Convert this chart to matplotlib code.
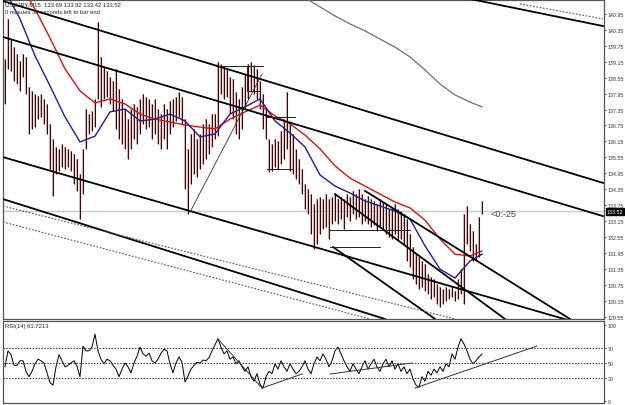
import numpy as np
import matplotlib
matplotlib.use("Agg")
import matplotlib.pyplot as plt

# USDJPY M15 bars (high / low), one per bar
highs = [139.25, 140.76, 140.00, 139.70, 139.44, 139.18, 139.44, 139.33, 138.20, 138.05,
         137.94, 137.86, 137.94, 137.75, 137.56, 136.81, 136.24, 135.94, 135.87, 136.05,
         135.94, 135.87, 135.79, 135.68, 135.49, 134.92, 135.87, 137.37, 137.18, 137.30,
         137.75, 140.64, 139.33, 138.95, 138.80, 138.57, 138.42, 138.88, 138.12, 137.75,
         137.37, 136.99, 137.37, 137.56, 137.45, 137.75, 137.94, 137.82, 137.75, 137.56,
         137.75, 137.37, 137.18, 137.56, 137.37, 137.67, 137.75, 137.82, 138.01, 137.82,
         136.99, 135.87, 136.43, 136.62, 136.24, 136.43, 136.81, 136.99, 136.81, 137.18,
         137.18, 139.14, 139.06, 138.95, 138.88, 138.57, 138.50, 138.01, 137.75, 138.20,
         138.69, 139.06, 139.14, 139.03, 138.88, 138.42, 137.94, 137.37, 136.24, 136.05,
         136.24, 136.17, 136.54, 136.99, 138.01, 136.81, 136.43, 135.87, 135.49, 135.11,
         134.55, 134.36, 134.17, 133.80, 133.98, 134.06, 133.98, 134.17, 133.98, 134.06,
         134.17, 133.98, 134.06, 133.98, 134.17, 134.06, 134.29, 134.17, 134.36, 134.17,
         133.98, 134.10, 133.98, 133.91, 133.80, 133.98, 133.87, 133.80, 133.61, 133.68,
         133.80, 133.61, 133.53, 133.42, 133.23, 132.67, 132.18, 131.91, 131.80, 131.65,
         131.54, 131.16, 131.05, 130.97, 130.79, 130.67, 130.60, 130.67, 130.60, 130.67,
         130.52, 130.97, 131.35, 133.42, 133.72, 133.04, 132.78, 132.29, 133.31, 133.92]
lows = [137.56, 138.88, 138.80, 138.42, 138.31, 138.05, 138.57, 137.94, 136.43, 136.62,
        136.69, 136.99, 137.07, 136.81, 136.43, 135.11, 134.10, 134.92, 135.04, 135.19,
        135.11, 135.19, 135.04, 134.55, 134.29, 133.23, 134.17, 135.87, 136.43, 136.54,
        136.69, 137.75, 137.45, 137.75, 137.82, 137.56, 137.30, 136.62, 136.24, 136.05,
        135.87, 135.49, 135.87, 136.24, 136.05, 136.43, 136.81, 136.62, 136.69, 136.24,
        136.43, 136.05, 135.87, 136.24, 135.87, 136.43, 136.69, 136.92, 137.07, 136.81,
        134.36, 133.42, 134.55, 134.92, 134.81, 135.11, 135.30, 135.49, 135.68, 135.94,
        136.24, 136.35, 137.94, 137.75, 137.82, 137.18, 136.99, 136.43, 136.24, 136.62,
        137.37, 137.75, 138.05, 137.94, 137.75, 137.37, 136.62, 136.24, 135.00, 135.04,
        135.19, 135.11, 135.30, 135.49, 135.87, 135.04, 134.92, 134.74, 134.55, 134.17,
        133.61, 133.42, 132.67, 132.10, 132.29, 132.67, 132.85, 132.93, 132.48, 133.04,
        133.16, 133.04, 133.23, 132.85, 133.31, 133.16, 133.42, 133.23, 133.31, 133.04,
        133.16, 133.04, 132.93, 133.01, 132.78, 132.93, 132.85, 132.67, 132.55, 132.48,
        132.67, 132.40, 132.48, 132.29, 131.65, 131.43, 130.97, 130.79, 130.60, 130.67,
        130.52, 130.41, 130.22, 130.30, 130.03, 129.92, 130.03, 130.15, 130.22, 130.30,
        130.15, 130.22, 130.41, 130.03, 132.29, 132.03, 131.65, 131.65, 131.80, 133.42]

# moving averages, sampled every 5 bars (+ last bar)
ma_bars = [0, 5, 10, 15, 20, 25, 30, 35, 40, 45, 50, 55, 60, 65, 70, 75, 80, 85, 90, 95,
           100, 105, 110, 115, 120, 125, 130, 135, 140, 145, 150, 155, 159]
ma_red = [142.83, 142.07, 141.13, 140.04, 138.88, 138.05, 137.60, 137.75, 137.56, 137.18,
          136.99, 136.88, 136.77, 136.69, 136.62, 136.99, 137.26, 137.52, 137.11, 136.81,
          136.39, 135.87, 135.23, 134.77, 134.47, 134.17, 133.87, 133.65, 133.19, 132.48,
          131.91, 131.84, 132.03]
ma_blue = [141.81, 140.76, 139.37, 138.24, 137.07, 136.13, 136.35, 137.26, 137.37, 136.92,
           136.99, 137.18, 136.92, 136.32, 136.43, 137.18, 137.45, 137.75, 136.92, 136.47,
           135.94, 134.89, 134.47, 134.21, 133.91, 133.72, 133.53, 133.23, 132.22, 131.35,
           131.01, 131.65, 131.91]
slow_bars = [100, 105, 110, 115, 120, 125, 130, 135, 140, 145, 150, 155, 159]
ma_slow = [141.55, 141.21, 140.87, 140.57, 140.31, 140.00, 139.70, 139.33, 138.84, 138.31,
           137.90, 137.63, 137.45]

rsi = [45, 66, 61, 47, 47, 53, 53, 39, 32, 39, 49, 55, 53, 50, 37, 24, 21, 45, 61, 53,
       45, 47, 50, 53, 46, 32, 72, 66, 66, 71, 88, 66, 55, 49, 55, 53, 47, 42, 32, 42,
       50, 45, 37, 50, 59, 71, 62, 59, 63, 53, 50, 55, 63, 68, 66, 49, 37, 50, 58, 51,
       25, 33, 42, 47, 51, 50, 54, 53, 57, 66, 74, 82, 71, 62, 66, 55, 58, 49, 53, 45,
       39, 45, 32, 26, 36, 22, 17, 32, 39, 36, 49, 42, 53, 45, 39, 49, 42, 36, 39, 45,
       53, 42, 36, 49, 58, 53, 62, 55, 45, 53, 66, 71, 62, 53, 45, 39, 49, 42, 36, 45,
       53, 42, 49, 55, 45, 39, 49, 55, 45, 53, 42, 49, 39, 45, 36, 42, 29, 21, 18, 32,
       26, 39, 34, 42, 37, 45, 39, 49, 45, 62, 55, 71, 82, 75, 66, 55, 49, 53, 58, 61.72]

last_price = 133.52
rsi_last = 61.7213
price_ticks = [129.55 + 0.6 * k for k in range(20)]
rsi_ticks = [0, 30, 50, 70, 100]
rsi_levels = [30, 50, 70]

# hand-drawn objects on the chart: (bar, price) pairs
trend_lines = [((-0.67, 141.43), (199.33, 134.59)),
               ((-0.67, 140.08), (199.33, 133.34)),
               ((155.0, 141.51), (199.33, 140.49)),
               ((-0.67, 135.56), (199.33, 129.05)),
               ((-0.67, 133.98), (126.67, 129.47)),
               ((120.0, 134.29), (188.33, 129.47)),
               ((109.33, 132.18), (143.33, 129.47)),
               ((110.0, 134.17), (166.67, 129.47))]
dotted_lines = [((171.67, 141.32), (199.33, 140.76)),
                ((-0.67, 133.72), (150.0, 129.47)),
                ((-0.67, 133.12), (121.67, 129.47))]
thin_lines = [((71.67, 138.99), (86.0, 138.99)),
              ((80.67, 138.05), (85.0, 138.05)),
              ((80.67, 138.05), (80.67, 138.99)),
              ((87.33, 137.07), (96.67, 137.07)),
              ((87.33, 135.11), (96.0, 135.11)),
              ((108.33, 132.82), (135.0, 132.82)),
              ((108.33, 132.18), (125.0, 132.18))]
fib_line = ((61.67, 133.49), (85.67, 138.69))
rsi_lines = [((71.0, 81.6), (85.67, 17.1)),
             ((85.67, 17.1), (99.0, 35.5)),
             ((108.33, 35.5), (135.67, 50.0)),
             ((136.67, 17.1), (177.33, 72.4))]

W, H = 625, 406
fig = plt.figure(figsize=(W / 100, H / 100), dpi=100)
fig.patch.set_facecolor("white")
plt.rcParams['font.family'] = ['Liberation Sans', 'DejaVu Sans']

ax = fig.add_axes([3 / W, 1 - 320 / H, 601 / W, 319 / H])
ax2 = fig.add_axes([3 / W, 1 - 404 / H, 601 / W, 82 / H])

xlim = (-0.667, 199.667)
bars = np.arange(len(highs))

# price bars
ax.vlines(bars, lows, highs, color="#d9b4b4", lw=1.5, zorder=2)
ax.vlines(bars, lows, highs, color="#3c0606", lw=0.75, zorder=3)

ax.axhline(last_price, color="#c8c8c8", lw=1.0, zorder=1)

ax.plot(ma_bars, ma_red, color="#e01010", lw=1.0, zorder=4)
ax.plot(ma_bars, ma_blue, color="#2c1a8c", lw=1.0, zorder=4)
ax.plot(slow_bars, ma_slow, color="#707070", lw=0.9, zorder=4)

for (a, b) in trend_lines:
    ax.plot([a[0], b[0]], [a[1], b[1]], color="black", lw=1.3, zorder=5)
for (a, b) in dotted_lines:
    ax.plot([a[0], b[0]], [a[1], b[1]], color="#555555", lw=0.8, ls=(0, (1.5, 1.5)), zorder=5)
for (a, b) in thin_lines:
    ax.plot([a[0], b[0]], [a[1], b[1]], color="#222222", lw=0.7, zorder=5)
ax.plot([fib_line[0][0], fib_line[1][0]], [fib_line[0][1], fib_line[1][1]],
        color="#333333", lw=0.6, zorder=5)

ax.set_xlim(*xlim)
ax.set_ylim(129.47, 141.47)
ax.set_xticks([])
ax.yaxis.tick_right()
ax.set_yticks(price_ticks)
ax.set_yticklabels(["%.2f" % t for t in price_ticks])
ax.tick_params(axis="y", labelsize=3.8, length=1.5, width=0.6, pad=1, colors="#333333")

ax.text(0.004, 0.995, "USDJPY,M15  133.69 133.92 133.42 133.52", transform=ax.transAxes,
        fontsize=4.2, va="top", ha="left", color="#222222")
ax.text(0.004, 0.972, "0 minutes 38 seconds left to bar end", transform=ax.transAxes,
        fontsize=4.2, va="top", ha="left", color="#222222")
ax.text(162, last_price - 0.08, "<0:-25", fontsize=6.5, color="#444444", va="center", ha="left")
ax.text(1.004, (last_price - 129.47) / 12.0, "%.2f" % last_price, transform=ax.transAxes,
        fontsize=3.8, color="white", va="center", ha="left",
        bbox=dict(boxstyle="square,pad=0.15", fc="black", ec="black"), zorder=10, clip_on=False)

# RSI panel
ax2.plot(np.arange(len(rsi)), rsi, color="black", lw=0.7)
for lv in rsi_levels:
    ax2.axhline(lv, color="#333333", lw=0.7, ls=(0, (1.5, 1.5)))
for (a, b) in rsi_lines:
    ax2.plot([a[0], b[0]], [a[1], b[1]], color="#333333", lw=0.7)
ax2.set_xlim(*xlim)
ax2.set_ylim(-2.6, 105.3)
ax2.set_xticks([])
ax2.yaxis.tick_right()
ax2.set_yticks(rsi_ticks)
ax2.set_yticklabels([str(t) for t in rsi_ticks])
ax2.tick_params(axis="y", labelsize=3.8, length=1.5, width=0.6, pad=1, colors="#333333")
ax2.text(0.004, 0.97, "RSI(14) %.4f" % rsi_last, transform=ax2.transAxes,
         fontsize=4.2, va="top", ha="left", color="#222222")

for a in (ax, ax2):
    for s in a.spines.values():
        s.set_color("#555555")
        s.set_linewidth(0.9)

fig.savefig("out.png", dpi=100)
